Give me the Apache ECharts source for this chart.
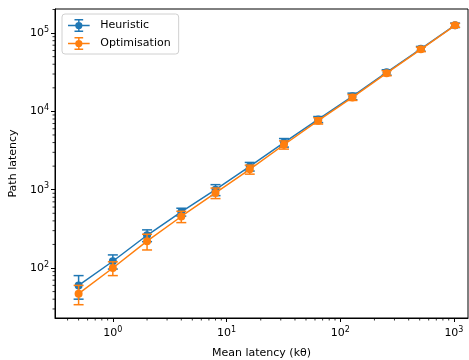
<!DOCTYPE html>
<html lang="en">
<head>
  <meta charset="UTF-8" />
  <title>Path latency vs mean latency</title>
  <script src="https://cdn.jsdelivr.net/npm/echarts@6.0.0/dist/echarts.min.js"></script>
  <style>
    body { margin: 0; background: #fff; }
    #chart { width: 469px; height: 360px; }
  </style>
</head>
<body>
  <div id="chart"></div>
  <script>
    // data
    const meanLatency = [0.5, 1, 2, 4, 8, 16, 32, 64, 128, 256, 512, 1024];
    const heuristic = [60, 122, 262, 520, 1000, 1980, 4000, 7900, 15600, 31500, 63000, 126000];
    const heuristicErr = [20, 25, 45, 60, 160, 250, 500, 700, 1500, 2500, 4500, 8000];
    const optimisation = [47, 100, 220, 455, 910, 1820, 3750, 7600, 15100, 30800, 62000, 125500];
    const optimisationErr = [13, 20, 50, 75, 140, 240, 450, 700, 1300, 2300, 4000, 7000];
    const xMajorTicks = [1, 10, 100, 1000];
    const yMajorTicks = [100, 1000, 10000, 100000];

    const xMin = 0.31, xMax = 1330;
    const yMin = 23, yMax = 203000;
    const blue = '#1f77b4', orange = '#ff7f0e';
    const font = 'DejaVu Sans';

    // minor ticks 2..9 x 10^k inside the range
    function minorTicks(lo, hi) {
      const out = [];
      for (let k = -2; k <= 6; k++) {
        for (let m = 2; m <= 9; m++) {
          const v = m * Math.pow(10, k);
          if (v >= lo && v <= hi) out.push(v);
        }
      }
      return out;
    }

    function powLabel(v) {
      const e = Math.log10(v);
      if (Math.abs(e - Math.round(e)) > 1e-6) return '';
      return '{b|10}{s|' + Math.round(e) + '}';
    }
    const rich = {
      b: { fontFamily: font, fontSize: 11, color: '#000' },
      s: { fontFamily: font, fontSize: 8, color: '#000', padding: [0, 0, 7, 0] }
    };

    const legendIcon = 'path://M0 9H30V11H0Z M14 2H16V18H14Z M9 1H21V3H9Z M9 17H21V19H9Z M15 5A5 5 0 1 1 14.99 5Z';

    function errorSeries(name, vals, errs, color, z) {
      return {
        type: 'custom',
        name: name,
        z: z,
        silent: true,
        itemStyle: { color: color },
        data: meanLatency.map((x, i) => [x, vals[i] - errs[i], vals[i] + errs[i]]),
        renderItem: function (params, api) {
          const lo = api.coord([api.value(0), api.value(1)]);
          const hi = api.coord([api.value(0), api.value(2)]);
          const cap = 5;
          const style = { stroke: color, lineWidth: 1.5 };
          return {
            type: 'group',
            children: [
              { type: 'line', shape: { x1: lo[0], y1: lo[1], x2: hi[0], y2: hi[1] }, style: style },
              { type: 'line', shape: { x1: lo[0] - cap, y1: lo[1], x2: lo[0] + cap, y2: lo[1] }, style: style },
              { type: 'line', shape: { x1: hi[0] - cap, y1: hi[1], x2: hi[0] + cap, y2: hi[1] }, style: style }
            ]
          };
        }
      };
    }

    const chart = echarts.init(document.getElementById('chart'));
    chart.setOption({
      animation: false,
      backgroundColor: '#fff',
      grid: {
        left: 55, right: 1, top: 9, bottom: 42,
        outerBoundsMode: 'none', containLabel: false,
        show: true, borderColor: '#000', borderWidth: 1
      },
      legend: {
        left: 62, top: 14,
        orient: 'vertical',
        data: [
          { name: 'Heuristic', icon: legendIcon, itemStyle: { color: blue } },
          { name: 'Optimisation', icon: legendIcon, itemStyle: { color: orange } }
        ],
        itemWidth: 25, itemHeight: 13, itemGap: 5,
        padding: [5, 8, 4, 6],
        backgroundColor: '#fff',
        borderColor: '#d0d0d0', borderWidth: 1, borderRadius: 3,
        textStyle: { fontFamily: font, fontSize: 11, color: '#000', padding: [0, 0, 0, 4] }
      },
      xAxis: {
        type: 'log', logBase: 10, min: xMin, max: xMax,
        name: 'Mean latency (kθ)', nameLocation: 'middle', nameGap: 30,
        nameTextStyle: { fontFamily: font, fontSize: 11, color: '#000' },
        axisLine: { lineStyle: { color: '#000', width: 1 } },
        axisTick: { customValues: xMajorTicks, length: 4, lineStyle: { color: '#000' } },
        axisLabel: { customValues: xMajorTicks, formatter: powLabel, rich: rich, margin: 8 },
        splitLine: { show: false }
      },
      yAxis: {
        type: 'log', logBase: 10, min: yMin, max: yMax,
        name: 'Path latency', nameLocation: 'middle', nameGap: 35,
        nameTextStyle: { fontFamily: font, fontSize: 11, color: '#000' },
        axisLine: { lineStyle: { color: '#000', width: 1 } },
        axisTick: { customValues: yMajorTicks, length: 4, lineStyle: { color: '#000' } },
        axisLabel: { customValues: yMajorTicks, formatter: powLabel, rich: rich, margin: 6 },
        splitLine: { show: false }
      },
      series: [
        {
          type: 'custom', silent: true, z: 1,
          data: minorTicks(xMin, xMax).map(v => [v, yMin]),
          renderItem: function (params, api) {
            const p = api.coord([api.value(0), api.value(1)]);
            const b = params.coordSys.y + params.coordSys.height;
            return { type: 'line', shape: { x1: p[0], y1: b, x2: p[0], y2: b + 2.5 }, style: { stroke: '#000', lineWidth: 0.8 } };
          }
        },
        {
          type: 'custom', silent: true, z: 1,
          data: minorTicks(yMin, yMax).map(v => [xMin, v]),
          renderItem: function (params, api) {
            const p = api.coord([api.value(0), api.value(1)]);
            const l = params.coordSys.x;
            return { type: 'line', shape: { x1: l - 2.5, y1: p[1], x2: l, y2: p[1] }, style: { stroke: '#000', lineWidth: 0.8 } };
          }
        },
        errorSeries('Heuristic', heuristic, heuristicErr, blue, 3),
        {
          name: 'Heuristic', type: 'line', z: 4,
          data: meanLatency.map((x, i) => [x, heuristic[i]]),
          symbol: 'circle', symbolSize: 8,
          lineStyle: { color: blue, width: 1.5 },
          itemStyle: { color: blue }
        },
        errorSeries('Optimisation', optimisation, optimisationErr, orange, 5),
        {
          name: 'Optimisation', type: 'line', z: 6,
          data: meanLatency.map((x, i) => [x, optimisation[i]]),
          symbol: 'circle', symbolSize: 8,
          lineStyle: { color: orange, width: 1.5 },
          itemStyle: { color: orange }
        }
      ]
    });
  </script>
</body>
</html>
